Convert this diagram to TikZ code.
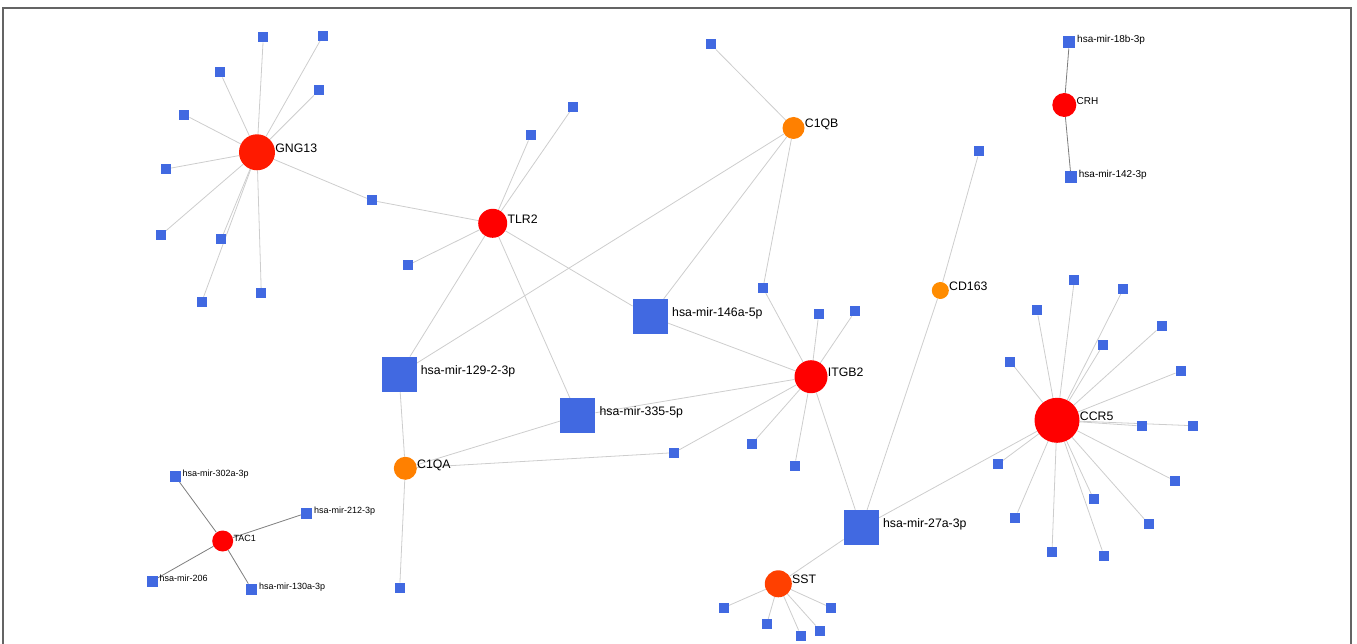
\documentclass[tikz,border=0pt]{standalone}
\usepackage{fontspec}
\setmainfont{Liberation Sans}
\usetikzlibrary{backgrounds}
\definecolor{mirblue}{RGB}{65,105,225}
\definecolor{gngred}{RGB}{255,26,0}
\definecolor{sstred}{RGB}{255,64,0}
\definecolor{c1orange}{RGB}{255,128,0}
\definecolor{cdorange}{RGB}{255,140,0}
\definecolor{lnkgray}{RGB}{205,205,205}
\definecolor{darklnk}{RGB}{125,125,125}
\definecolor{framegray}{RGB}{100,100,100}
\tikzset{
	gene/.style={circle, inner sep=0pt, draw=none},
	mir/.style={rectangle, fill=mirblue, inner sep=0pt, minimum size=10pt},
	hub/.style={mir, minimum size=35pt},
	lnk/.style={draw=lnkgray, line width=0.8pt},
	darklnk/.style={draw=darklnk, line width=0.8pt},
	glabel/.style={anchor=base west, inner sep=0pt, font=\fontsize{12.3}{14}\selectfont},
	hublabel/.style={glabel, xshift=4pt},
	tinylabel/.style={anchor=base west, inner sep=0pt, xshift=1.5pt, font=\fontsize{9}{10}\selectfont},
	smalllabel/.style={tinylabel, font=\fontsize{10}{11}\selectfont}
}

\begin{document}
\begin{tikzpicture}[x=1pt, y=-1pt]
		\useasboundingbox (0,0) rectangle (1357,644);
		
		% Frame
		\draw[framegray, line width=1.2pt] (3,644) -- (3,8) -- (1351,8) -- (1351,644);
		
		% Genes
		\node[gene, fill=gngred, minimum size=36pt] (gng13) at (257,152.3) {};
		\node[gene, fill=red, minimum size=29pt] (tlr2) at (492.7,223.3) {};
		\node[gene, fill=c1orange, minimum size=22pt] (c1qb) at (793.5,128) {};
		\node[gene, fill=red, minimum size=24pt] (crh) at (1064.3,105) {};
		\node[gene, fill=cdorange, minimum size=17pt] (cd163) at (940.3,290.5) {};
		\node[gene, fill=red, minimum size=33pt] (itgb2) at (811,376.7) {};
		\node[gene, fill=red, minimum size=45pt] (ccr5) at (1057,420.3) {};
		\node[gene, fill=c1orange, minimum size=23pt] (c1qa) at (405.3,468.3) {};
		\node[gene, fill=red, minimum size=21pt] (tac1) at (222.7,541) {};
		\node[gene, fill=sstred, minimum size=27pt] (sst) at (778.3,583.8) {};
		
		% Hub miRNAs
		\node[hub] (m146) at (650.3,316.5) {};
		\node[hub] (m129) at (399,374.2) {};
		\node[hub] (m335) at (577.7,415.7) {};
		\node[hub] (m27a) at (861.2,527.5) {};
		
		% Shared miRNAs
		\node[mir] (s1) at (372,200.5) {};
		\node[mir] (s2) at (763,288) {};
		\node[mir] (s3) at (674,452.7) {};
		
		% Single targets
		\foreach \x/\y [count=\i] in {263.3/37.3, 323/35.7, 220/72.3, 319/90.3, 184.3/114.7, 166/169, 160.7/235.3, 221.3/239, 201.7/302, 261.3/293.3}
			\node[mir] (gng-\i) at (\x,\y) {};
		\foreach \x/\y [count=\i] in {573.3/106.7, 530.7/135.3, 407.7/265.3}
			\node[mir] (tlr-\i) at (\x,\y) {};
		\foreach \x/\y [count=\i] in {818.7/314.3, 855.3/311, 751.7/444, 794.7/465.7}
			\node[mir] (itg-\i) at (\x,\y) {};
		\foreach \x/\y [count=\i] in {1074.3/280, 1123.3/289, 1037/310.3, 1161.7/325.7, 1103/345, 1010.3/361.7, 1180.7/371, 1141.7/426, 1193/425.7, 997.7/464.3, 1175/481, 1093.7/499.3, 1015.3/517.7, 1148.7/524, 1052/552, 1104/555.7}
			\node[mir] (ccr-\i) at (\x,\y) {};
		\foreach \x/\y [count=\i] in {723.7/607.7, 766.7/624.3, 801/635.7, 820.3/630.7, 831/607.7}
			\node[mir] (sst-\i) at (\x,\y) {};
		\node[mir] (c1qb-1) at (710.7,44.3) {};
		\node[mir] (c1qa-1) at (399.7,587.7) {};
		\node[mir] (cd-1) at (979.3,151.3) {};
		
		%% Labelled small ones
		\node[mir, minimum size=11pt] (mir302) at (175.3,476.3) {};
		\node[mir, minimum size=11pt] (mir212) at (306.7,513) {};
		\node[mir, minimum size=11pt] (mir206) at (152.3,581) {};
		\node[mir, minimum size=11pt] (mir130) at (251.7,589.3) {};
		\node[mir, minimum size=12pt] (mir18b) at (1069.3,42.3) {};
		\node[mir, minimum size=12pt] (mir142) at (1071,177.3) {};
		
		% Links
		\begin{scope}[on background layer]
			\foreach \i in {1,...,10} \draw[lnk] (gng13) -- (gng-\i);
			\foreach \i in {1,...,3} \draw[lnk] (tlr2) -- (tlr-\i);
			\foreach \i in {1,...,4} \draw[lnk] (itgb2) -- (itg-\i);
			\foreach \i in {1,...,16} \draw[lnk] (ccr5) -- (ccr-\i);
			\foreach \i in {1,...,5} \draw[lnk] (sst) -- (sst-\i);
			\draw[lnk] (gng13) -- (s1) -- (tlr2);
			\draw[lnk] (tlr2) -- (m129);
			\draw[lnk] (tlr2) -- (m335);
			\draw[lnk] (tlr2) -- (m146) -- (itgb2);
			\draw[lnk] (c1qb) -- (c1qb-1);
			\draw[lnk] (c1qb) -- (m129);
			\draw[lnk] (c1qb) -- (m146);
			\draw[lnk] (c1qb) -- (s2) -- (itgb2);
			\draw[lnk] (itgb2) -- (m335) -- (c1qa);
			\draw[lnk] (itgb2) -- (s3) -- (c1qa);
			\draw[lnk] (itgb2) -- (m27a);
			\draw[lnk] (m129) -- (c1qa) -- (c1qa-1);
			\draw[lnk] (cd-1) -- (cd163) -- (m27a);
			\draw[lnk] (ccr5) -- (m27a) -- (sst);
			\foreach \m in {mir302, mir212, mir206, mir130} \draw[darklnk] (tac1) -- (\m);
			\draw[darklnk] (mir18b) -- (crh) -- (mir142);
		\end{scope}
		
		% Labels
		\node[glabel] (lgng13) at (gng13.east) {GNG13};
		\node[glabel] (ltlr2) at (tlr2.east) {TLR2};
		\node[glabel] (lc1qb) at (c1qb.east) {C1QB};
		\node[glabel] (lcd163) at (cd163.east) {CD163};
		\node[glabel] (litgb2) at (itgb2.east) {ITGB2};
		\node[glabel] (lccr5) at (ccr5.east) {CCR5};
		\node[glabel] (lc1qa) at (c1qa.east) {C1QA};
		\node[glabel] (lsst) at (sst.east) {SST};
		\node[glabel, font=\fontsize{9}{10}\selectfont] (ltac1) at (tac1.east) {TAC1};
		\node[glabel, font=\fontsize{10}{11}\selectfont] (lcrh) at (crh.east) {CRH};
		\node[hublabel] (lm146) at (m146.east) {hsa-mir-146a-5p};
		\node[hublabel] (lm129) at (m129.east) {hsa-mir-129-2-3p};
		\node[hublabel] (lm335) at (m335.east) {hsa-mir-335-5p};
		\node[hublabel] (lm27a) at (m27a.east) {hsa-mir-27a-3p};
		\node[tinylabel] (lmir302) at (mir302.east) {hsa-mir-302a-3p};
		\node[tinylabel] (lmir212) at (mir212.east) {hsa-mir-212-3p};
		\node[tinylabel] (lmir206) at (mir206.east) {hsa-mir-206};
		\node[tinylabel] (lmir130) at (mir130.east) {hsa-mir-130a-3p};
		\node[smalllabel] (lmir18b) at (mir18b.east) {hsa-mir-18b-3p};
		\node[smalllabel] (lmir142) at (mir142.east) {hsa-mir-142-3p};
	\end{tikzpicture}
\end{document}
